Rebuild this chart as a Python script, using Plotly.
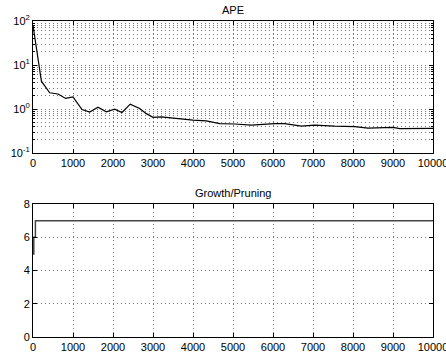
import plotly.graph_objects as go
from plotly.subplots import make_subplots

# APE curve (iteration, value)
ape_iter = [0, 210, 417, 625, 817, 1000, 1225, 1417, 1625, 1833, 2042, 2225, 2430, 2667,
            2833, 3000, 3208, 3500, 4000, 4333, 4667, 5042, 5458, 6042, 6292, 6708,
            7042, 7542, 8042, 8375, 9000, 9167, 10000]
ape_val = [80, 4.3, 2.35, 2.2, 1.75, 1.9, 0.98, 0.86, 1.1, 0.87, 1.0, 0.84, 1.3, 1.03,
           0.79, 0.65, 0.67, 0.62, 0.56, 0.54, 0.47, 0.46, 0.435, 0.47, 0.47, 0.41,
           0.435, 0.41, 0.40, 0.37, 0.385, 0.36, 0.365]

# Growth/Pruning step
gp_iter = [0, 20, 60, 10000]
gp_val = [5, 6, 7, 7]

x_ticks = list(range(0, 10001, 1000))
x_ticktext = [str(v) for v in x_ticks]
ape_tickvals = [0.1, 1, 10, 100]
ape_ticktext = ["10<sup>-1</sup>", "10<sup>0</sup>", "10<sup>1</sup>", "10<sup>2</sup>"]
ape_minor = [m * d for d in (0.1, 1, 10) for m in range(2, 10)]
gp_ticks = [0, 2, 4, 6, 8]

fig = make_subplots(rows=2, cols=1, vertical_spacing=0.1)
fig.add_trace(go.Scatter(x=ape_iter, y=ape_val, mode="lines",
                         line=dict(color="black", width=1.2)), row=1, col=1)
fig.add_trace(go.Scatter(x=gp_iter, y=gp_val, mode="lines", line_shape="hv",
                         line=dict(color="#444444", width=1.5)), row=2, col=1)

font = dict(family="Liberation Sans, Arial, sans-serif", size=11, color="black")
gridc = "#777777"
gdash = "1px,3px"
axcommon = dict(showline=True, linecolor="black", linewidth=1, mirror="ticks",
                ticks="inside", ticklen=4, tickcolor="black", zeroline=False,
                showgrid=True, gridcolor=gridc, griddash=gdash, gridwidth=1,
                tickfont=font, ticklabeloverflow="allow", automargin=False)

fig.update_xaxes(range=[0, 10000], tickmode="array", tickvals=x_ticks,
                 ticktext=x_ticktext, **axcommon)
fig.update_yaxes(row=1, col=1, type="log", range=[-1, 2], tickmode="array",
                 tickvals=ape_tickvals, ticktext=ape_ticktext,
                 minor=dict(tickmode="array", tickvals=ape_minor, showgrid=True,
                            gridcolor=gridc, griddash=gdash, gridwidth=1,
                            ticks="inside", ticklen=2, tickcolor="black"),
                 **axcommon)
fig.update_yaxes(row=2, col=1, range=[0, 8], tickmode="array", tickvals=gp_ticks,
                 **axcommon)

fig.update_layout(
    width=446, height=356,
    margin=dict(l=33, r=13, t=21, b=19),
    paper_bgcolor="white", plot_bgcolor="white",
    showlegend=False, font=font,
    xaxis=dict(domain=[0, 1]), xaxis2=dict(domain=[0, 1]),
    yaxis=dict(domain=[0.5817, 1]), yaxis2=dict(domain=[0, 0.4205]),
    annotations=[
        dict(text="APE", x=0.5, xref="paper", y=1, yref="paper", yanchor="bottom",
             yshift=3, showarrow=False, font=font),
        dict(text="Growth/Pruning", x=0.5, xref="paper", y=0.4205, yref="paper",
             yanchor="bottom", yshift=3, showarrow=False, font=font),
    ],
)

fig.write_html("out.html")
